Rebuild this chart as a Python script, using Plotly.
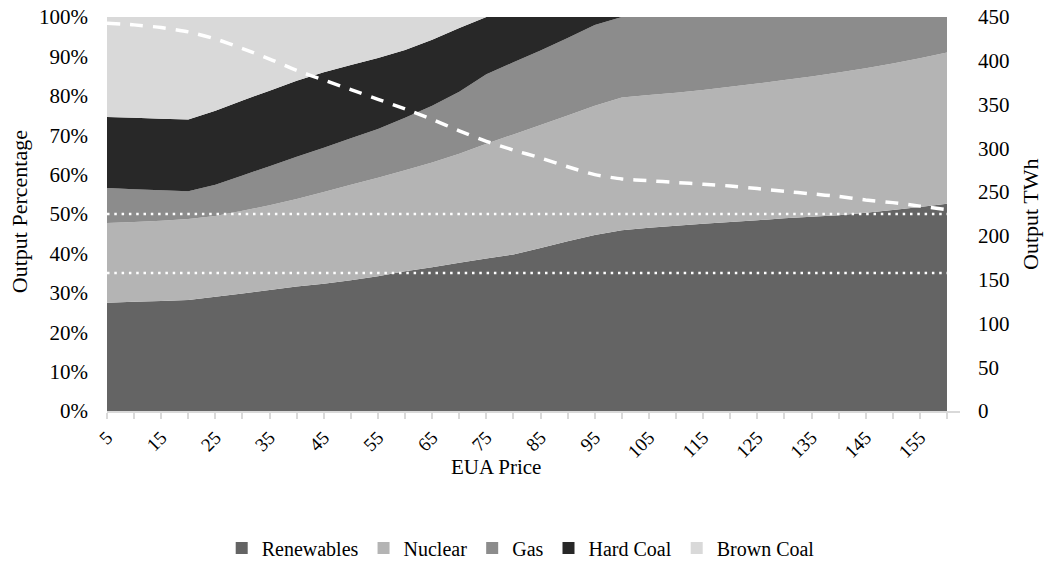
import plotly.graph_objects as go

eua_price = [5, 10, 15, 20, 25, 30, 35, 40, 45, 50, 55, 60, 65, 70, 75, 80,
             85, 90, 95, 100, 105, 110, 115, 120, 125, 130, 135, 140, 145, 150, 155, 160]

renewables = [27.5, 27.7, 27.9, 28.2, 29.0, 29.8, 30.7, 31.6, 32.3, 33.2, 34.2, 35.5, 36.5, 37.6, 38.7, 39.7,
              41.4, 43.1, 44.7, 45.9, 46.5, 47.0, 47.5, 48.0, 48.4, 48.9, 49.3, 49.7, 50.3, 51.0, 51.8, 52.6]
nuclear = [20.2, 20.3, 20.4, 20.5, 20.5, 21.0, 21.5, 22.2, 23.3, 24.2, 25.0, 25.6, 26.6, 27.7, 29.1, 30.5,
           31.2, 31.9, 32.8, 33.7, 33.7, 33.8, 34.0, 34.3, 34.7, 35.1, 35.6, 36.2, 36.7, 37.2, 37.7, 38.4]
gas = [8.9, 8.3, 7.7, 7.1, 7.9, 9.0, 9.9, 10.7, 11.2, 11.8, 12.4, 13.3, 14.4, 15.7, 17.7, 18.3,
       18.9, 19.7, 20.5, 20.4, 19.8, 19.2, 18.5, 17.7, 16.9, 16.0, 15.1, 14.1, 13.0, 11.8, 10.5, 9.0]
hard_coal = [18.0, 18.1, 18.2, 18.2, 18.8, 19.0, 19.2, 19.3, 19.2, 18.6, 18.0, 17.2, 16.7, 16.2, 14.5, 11.5,
             8.5, 5.3, 2.0, 0, 0, 0, 0, 0, 0, 0, 0, 0, 0, 0, 0, 0]
brown_coal = [25.4, 25.6, 25.8, 26.0, 23.8, 21.2, 18.7, 16.2, 14.0, 12.2, 10.4, 8.4, 5.8, 2.8, 0, 0,
              0, 0, 0, 0, 0, 0, 0, 0, 0, 0, 0, 0, 0, 0, 0, 0]

output_twh = [443, 441, 438, 433, 425, 414, 402, 389, 378, 367, 356, 345, 333, 320, 308, 298,
              289, 279, 270, 265, 263, 261, 259, 257, 254, 251, 248, 245, 241, 238, 234, 230]

target_levels_twh = [225, 157.5]

tick_labels = [str(v) if (v - 5) % 10 == 0 else "" for v in eua_price]

series = [
    ("Renewables", renewables, "#646464"),
    ("Nuclear", nuclear, "#b4b4b4"),
    ("Gas", gas, "#8c8c8c"),
    ("Hard Coal", hard_coal, "#282828"),
    ("Brown Coal", brown_coal, "#d9d9d9"),
]

FONT = "'Liberation Serif', 'Times New Roman', 'DejaVu Serif', serif"

fig = go.Figure()
for name, vals, col in series:
    fig.add_trace(go.Scatter(
        x=eua_price, y=vals, name=name, stackgroup="one", mode="none",
        fillcolor=col, line=dict(width=0, color=col), showlegend=False,
    ))

# legend entries with square swatches
for name, vals, col in series:
    fig.add_trace(go.Bar(
        x=[None], y=[None], name=name, marker=dict(color=col, line=dict(width=0)),
        showlegend=True, hoverinfo="skip",
    ))

for lvl in target_levels_twh:
    fig.add_trace(go.Scatter(
        x=[eua_price[0], eua_price[-1]], y=[lvl, lvl], yaxis="y2", mode="lines",
        line=dict(color="white", width=2.5, dash="2.5px,4.8px"), showlegend=False,
    ))

fig.add_trace(go.Scatter(
    x=eua_price, y=output_twh, yaxis="y2", mode="lines", name="Output TWh",
    line=dict(color="white", width=3.5, dash="13px,10px", shape="spline", smoothing=0.6),
    showlegend=False,
))

# page has an 8px body margin: figure is drawn 8px right/down
fig.update_layout(
    width=1045, height=555,
    margin=dict(l=99, r=93, t=9, b=152, autoexpand=False),
    paper_bgcolor="white", plot_bgcolor="white",
    font=dict(family=FONT, size=20, color="#000000"),
    xaxis=dict(
        range=[5, 162.4], tickmode="array", tickvals=eua_price, ticktext=tick_labels,
        tickangle=-45, ticks="outside", ticklen=6, tickcolor="#d9d9d9", tickwidth=1.5,
        showline=True, linecolor="#d9d9d9", linewidth=2, showgrid=False, zeroline=False,
        tickfont=dict(family=FONT, size=19), automargin=False, ticklabeloverflow="allow",
    ),
    yaxis=dict(
        range=[0, 100], dtick=10, ticksuffix="%", showgrid=False, zeroline=False,
        showline=False, ticks="", tickfont=dict(family=FONT, size=21), automargin=False,
        ticklabelstandoff=18, ticklabeloverflow="allow",
    ),
    yaxis2=dict(
        range=[0, 450], dtick=50, overlaying="y", side="right", showgrid=False,
        zeroline=False, showline=False, ticks="", tickfont=dict(family=FONT, size=21),
        automargin=False, ticklabelstandoff=17, ticklabeloverflow="allow",
    ),
    legend=dict(
        orientation="h", x=0.485, xanchor="center", yref="container", y=0.027, yanchor="middle",
        font=dict(family=FONT, size=20), traceorder="normal", itemwidth=30,
    ),
    showlegend=True,
    annotations=[
        dict(text="EUA Price", xref="paper", yref="paper", x=0.456, y=-0.142,
             xanchor="center", yanchor="middle", showarrow=False,
             font=dict(family=FONT, size=21)),
        dict(text="Output Percentage", xref="paper", yref="paper", x=-0.103, y=0.505,
             xanchor="center", yanchor="middle", textangle=-90, showarrow=False,
             font=dict(family=FONT, size=22)),
        dict(text="Output TWh", xref="paper", yref="paper", x=1.082, y=0.5,
             xanchor="center", yanchor="middle", textangle=-90, showarrow=False,
             font=dict(family=FONT, size=22)),
    ],
)

fig.write_html("out.html")
